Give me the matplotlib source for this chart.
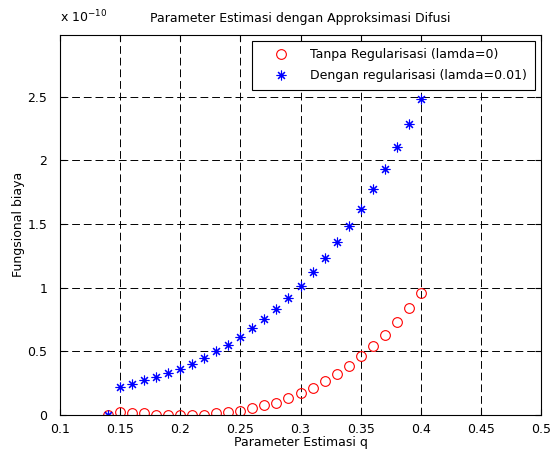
import numpy as np
import matplotlib
matplotlib.use('Agg')
import matplotlib.pyplot as plt
from matplotlib.ticker import FuncFormatter

plt.rcParams['font.family'] = ['DejaVu Sans']

q = [0.14, 0.15, 0.16, 0.17, 0.18, 0.19, 0.20, 0.21, 0.22, 0.23, 0.24, 0.25, 0.26, 0.27,
     0.28, 0.29, 0.30, 0.31, 0.32, 0.33, 0.34, 0.35, 0.36, 0.37, 0.38, 0.39, 0.40]
# in units of 1e-10
tanpa = [0.0, 0.02, 0.013, 0.013, 0.003, 0.003, 0.0, 0.0, 0.003, 0.013, 0.02, 0.034, 0.053, 0.077,
         0.098, 0.132, 0.169, 0.214, 0.27, 0.32, 0.384, 0.463, 0.542, 0.632, 0.728, 0.841, 0.96]
dengan = [0.0, 0.217, 0.243, 0.272, 0.299, 0.331, 0.365, 0.402, 0.444, 0.5, 0.55, 0.614, 0.683, 0.754,
          0.833, 0.921, 1.017, 1.12, 1.235, 1.36, 1.487, 1.615, 1.772, 1.936, 2.104, 2.29, 2.485]

xticks = [0.1, 0.15, 0.2, 0.25, 0.3, 0.35, 0.4, 0.45, 0.5]
yticks = [0, 0.5, 1, 1.5, 2, 2.5]

fs = 9

fig = plt.figure(figsize=(5.51, 4.55), dpi=100)
ax = fig.add_axes([60/551, 40/455, 481/551, 380.5/455])

ax.plot(q, tanpa, 'o', mfc='none', mec='#ff0000', ms=7, mew=0.8,
        label='Tanpa Regularisasi (lamda=0)')
ax.plot(q, dengan, ls='none', marker=(8, 2, 0), color='#0000ff', ms=7, mew=0.8,
        label='Dengan regularisasi (lamda=0.01)')

ax.set_xlim(0.1, 0.5)
ax.set_ylim(0, 2.99)
ax.set_xticks(xticks)
ax.set_yticks(yticks)
ax.xaxis.set_major_formatter(FuncFormatter(lambda v, p: '%g' % v))
ax.yaxis.set_major_formatter(FuncFormatter(lambda v, p: '%g' % v))
ax.tick_params(direction='in', top=True, right=True, labelsize=fs, length=4)
ax.tick_params(axis='x', pad=6)
ax.tick_params(axis='y', pad=9)
ax.grid(True, color='black', ls=(0, (8, 4)), lw=0.7)

ax.set_title('Parameter Estimasi dengan Approksimasi Difusi', fontsize=fs, pad=9)
ax.set_xlabel('Parameter Estimasi q', fontsize=fs, labelpad=0)
ax.set_ylabel('Fungsional biaya', fontsize=fs, labelpad=2)
ax.text(0.0, 1.025, 'x 10$^{-10}$', transform=ax.transAxes, fontsize=fs, ha='left', va='bottom')

leg = ax.legend(loc='upper right', fontsize=fs, fancybox=False, framealpha=1,
                edgecolor='black', borderaxespad=0.5, borderpad=0.6,
                handlelength=3.5, handletextpad=0.6, labelspacing=0.65)
leg.get_frame().set_linewidth(0.8)

fig.savefig('out.png', dpi=100)
